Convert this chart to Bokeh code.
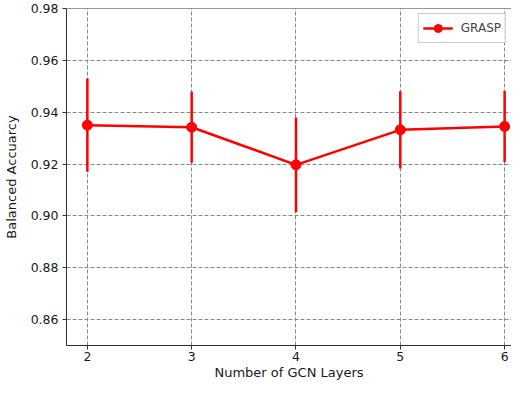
from bokeh.plotting import figure
from bokeh.models import FixedTicker, PrintfTickFormatter, Span, Range1d, Legend, LegendItem
from bokeh.embed import file_html
from bokeh.resources import INLINE

layers = [2, 3, 4, 5, 6]
acc = [0.935, 0.9342, 0.9197, 0.9332, 0.9345]
err = [0.018, 0.0137, 0.0183, 0.0149, 0.0137]
y_ticks = [0.86, 0.88, 0.90, 0.92, 0.94, 0.96, 0.98]
x_ticks = [2, 3, 4, 5, 6]

lo = [a - e for a, e in zip(acc, err)]
hi = [a + e for a, e in zip(acc, err)]

p = figure(width=511, height=382, output_backend="svg", toolbar_location=None,
           x_range=Range1d(1.8, 6.066), y_range=Range1d(0.85, 0.98),
           min_border_top=8, min_border_right=0, min_border_left=0, min_border_bottom=0)
p.outline_line_color = None
p.background_fill_color = "white"
p.border_fill_color = "white"

for ax in (p.xaxis[0], p.yaxis[0]):
    ax.axis_line_color = "#333333"
    ax.axis_line_width = 1
    ax.major_tick_line_color = "#333333"
    ax.major_tick_out = 4
    ax.major_tick_in = 0
    ax.minor_tick_line_color = None
    ax.major_label_text_font = "DejaVu Sans"
    ax.major_label_text_font_size = "12.5px"
    ax.major_label_text_color = "#1a1a1a"
    ax.axis_label_text_font = "DejaVu Sans"
    ax.axis_label_text_font_size = "13px"
    ax.axis_label_text_font_style = "normal"
    ax.axis_label_text_color = "#1a1a1a"

p.xaxis.ticker = FixedTicker(ticks=x_ticks)
p.yaxis.ticker = FixedTicker(ticks=y_ticks)
p.yaxis.formatter = PrintfTickFormatter(format="%.2f")
p.xaxis.axis_label = "Number of GCN Layers"
p.yaxis.axis_label = "Balanced Accuarcy"
p.xaxis.major_label_standoff = 2
p.xaxis.axis_label_standoff = 1
p.yaxis.major_label_standoff = 4
p.yaxis.axis_label_standoff = 9

for g in (p.xgrid[0], p.ygrid[0]):
    g.grid_line_color = "#8a8a8a"
    g.grid_line_dash = "4 2"
    g.grid_line_width = 1

p.add_layout(Span(location=0.98, dimension="width", line_color="#333333", line_width=1))

seg = p.segment(x0=layers, y0=lo, x1=layers, y1=hi, line_color="#ff0000", line_width=2.5)
ln = p.line(layers, acc, line_color="#ff0000", line_width=2.5)
pts = p.scatter(layers, acc, size=10, fill_color="#ff0000", line_color="#ff0000")

legend = Legend(items=[LegendItem(label="GRASP", renderers=[ln, pts])],
                location="top_right")
legend.label_text_font = "DejaVu Sans"
legend.label_text_font_size = "12px"
legend.border_line_color = "#cccccc"
legend.border_line_alpha = 1
legend.background_fill_alpha = 0.8
legend.margin = 5
legend.padding = 4
legend.glyph_width = 30
legend.label_standoff = 8
legend.spacing = 0
p.add_layout(legend)

open("out.html", "w").write(file_html(p, INLINE))
